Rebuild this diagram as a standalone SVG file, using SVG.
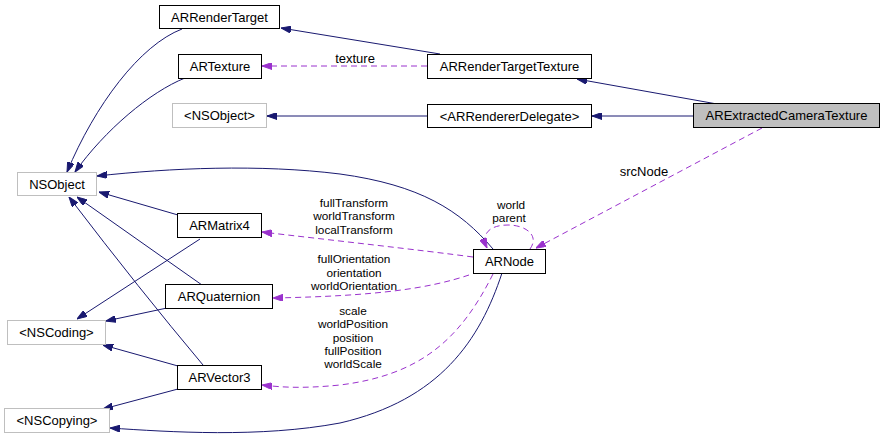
<svg xmlns="http://www.w3.org/2000/svg" width="885" height="440" viewBox="0 0 885 440">
<style>
text{font-family:"Liberation Sans",Arial,Helvetica,sans-serif;font-size:13px;fill:#000}
.n text{text-anchor:middle}
.b{fill:#fff;stroke:#000;stroke-width:1}
.g{fill:#fff;stroke:#bfbfbf;stroke-width:1}
.s{fill:#bfbfbf;stroke:#000;stroke-width:1}
.e{fill:none;stroke:#191970;stroke-width:1;marker-end:url(#an)}
.d{fill:none;stroke:#9a32cd;stroke-width:1;stroke-dasharray:6,4;marker-end:url(#ap)}
.l{text-anchor:middle}
.m{text-anchor:middle;font-size:11.8px}
</style>
<defs>
<marker id="an" viewBox="0 0 10 7" refX="10" refY="3.5" markerWidth="10" markerHeight="7" markerUnits="userSpaceOnUse" orient="auto"><path d="M0,0 L10,3.5 L0,7 z" fill="#191970" stroke="#191970"/></marker>
<marker id="ap" viewBox="0 0 10 7" refX="10" refY="3.5" markerWidth="10" markerHeight="7" markerUnits="userSpaceOnUse" orient="auto"><path d="M0,0 L10,3.5 L0,7 z" fill="#9a32cd" stroke="#9a32cd"/></marker>
</defs>
<rect width="885" height="440" fill="#fff"/>
<g id="edges">
<path class="e" d="M440,54 L281,28"/>
<path class="e" d="M717,104 L577,79"/>
<path class="e" d="M693,116 L592,116"/>
<path class="e" d="M427,116 L267,116"/>
<path class="e" d="M182,29 C140,45 95,105 67,172"/>
<path class="e" d="M185,78 C150,92 105,130 75,172"/>
<path class="e" d="M493,249 C460,210 420,185 340,174 C260,164 170,168 97,176"/>
<path class="e" d="M178,215 L99,192"/>
<path class="e" d="M202,285 L77,197"/>
<path class="e" d="M203,365 Q140,290 69,197"/>
<path class="e" d="M200,239 L77,319"/>
<path class="e" d="M167,308 L106,321"/>
<path class="e" d="M178,366 L103,345"/>
<path class="e" d="M178,389 L103,409"/>
<path class="e" d="M502,273 C480,340 440,400 340,423 C260,438 170,432 110,428"/>
<path class="d" d="M427,66 L262,66"/>
<text class="l" x="355" y="63">texture</text>
<path class="d" d="M762,128 L536,248"/>
<text class="l" x="644" y="176">srcNode</text>
<path class="d" d="M530,249 C540,235 525,225 508,225 C492,225 480,232 487,248"/>
<text class="m" x="510" y="209"><tspan x="511">world</tspan><tspan x="509" dy="13.3">parent</tspan></text>
<path class="d" d="M473,257 C420,250 330,240 262,232"/>
<text class="m" x="354" y="207"><tspan x="354">fullTransform</tspan><tspan x="354" dy="13.3">worldTransform</tspan><tspan x="354" dy="13.3">localTransform</tspan></text>
<path class="d" d="M469,275 C430,288 380,296 273,298"/>
<text class="m" x="354" y="263"><tspan x="354">fullOrientation</tspan><tspan x="354" dy="13.5">orientation</tspan><tspan x="354" dy="13.5">worldOrientation</tspan></text>
<path class="d" d="M493,274 C460,340 420,375 340,385 C300,389 280,387 262,385"/>
<text class="m" x="353" y="315"><tspan x="353">scale</tspan><tspan x="353" dy="13.3">worldPosition</tspan><tspan x="353" dy="13.3">position</tspan><tspan x="353" dy="13.3">fullPosition</tspan><tspan x="353" dy="13.3">worldScale</tspan></text>
</g>
<g id="ARRenderTarget" class="n"><rect class="b" x="159.5" y="5.5" width="120" height="23"/><text x="219.5" y="21.5">ARRenderTarget</text></g>
<g id="ARTexture" class="n"><rect class="b" x="178.5" y="54.5" width="83" height="24"/><text x="220" y="71">ARTexture</text></g>
<g id="NSObjectProto" class="n"><rect class="g" x="172.5" y="103.5" width="94" height="24"/><text x="219.5" y="120">&lt;NSObject&gt;</text></g>
<g id="NSObject" class="n"><rect class="g" x="17.5" y="172.5" width="79" height="23"/><text x="57" y="188.5">NSObject</text></g>
<g id="ARRenderTargetTexture" class="n"><rect class="b" x="427.5" y="54.5" width="164" height="24"/><text x="509.5" y="71">ARRenderTargetTexture</text></g>
<g id="ARRendererDelegate" class="n"><rect class="b" x="427.5" y="104.5" width="164" height="23"/><text x="509.5" y="120.5">&lt;ARRendererDelegate&gt;</text></g>
<g id="ARExtractedCameraTexture" class="n"><rect class="s" x="693.5" y="103.5" width="186" height="24"/><text x="786.5" y="120">ARExtractedCameraTexture</text></g>
<g id="ARMatrix4" class="n"><rect class="b" x="177.5" y="213.5" width="84" height="24"/><text x="219.5" y="230">ARMatrix4</text></g>
<g id="ARQuaternion" class="n"><rect class="b" x="165.5" y="284.5" width="107" height="24"/><text x="219" y="301">ARQuaternion</text></g>
<g id="NSCoding" class="n"><rect class="g" x="7.5" y="320.5" width="98" height="24"/><text x="56.5" y="337">&lt;NSCoding&gt;</text></g>
<g id="ARVector3" class="n"><rect class="b" x="177.5" y="365.5" width="84" height="24"/><text x="219.5" y="382">ARVector3</text></g>
<g id="NSCopying" class="n"><rect class="g" x="4.5" y="408.5" width="105" height="24"/><text x="57" y="425">&lt;NSCopying&gt;</text></g>
<g id="ARNode" class="n"><rect class="b" x="473.5" y="249.5" width="72" height="24"/><text x="509.5" y="266">ARNode</text></g>
</svg>
